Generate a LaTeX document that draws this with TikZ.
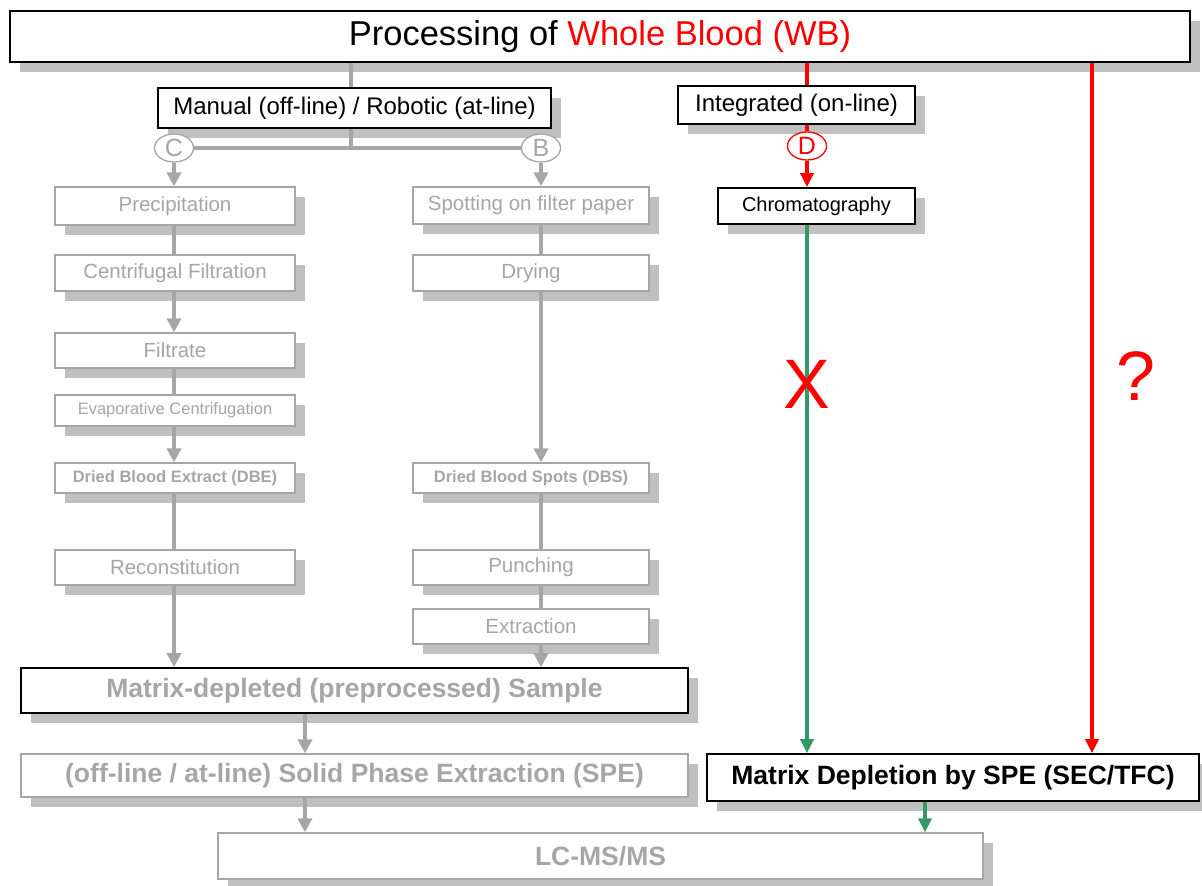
\documentclass[tikz,border=0pt]{standalone}
\usepackage{fontspec}
\setmainfont{Liberation Sans}
\usetikzlibrary{arrows.meta,shadows,shapes.geometric}
\definecolor{lgray}{HTML}{A6A6A6}
\definecolor{shgray}{HTML}{C0C0C0}
\definecolor{wbred}{HTML}{FF0000}
\definecolor{okgreen}{HTML}{339966}
\newcommand{\fsz}[1]{\fontsize{#1}{#1}\selectfont}

\begin{document}
\begin{tikzpicture}[x=1pt,y=-1pt,
  shadowed/.style={drop shadow={shadow xshift=10pt,shadow yshift=-10pt,fill=shgray,opacity=1}},
  blackbox/.style={draw=black,line width=1.6pt,fill=white,rectangle,inner sep=0pt,shadowed},
  graybox/.style={draw=lgray,line width=1.3pt,fill=white,rectangle,inner sep=0pt,text=lgray,shadowed},
  tag/.style={ellipse,draw=lgray,line width=1.3pt,fill=white,text=lgray,minimum width=39pt,minimum height=28pt,inner sep=0pt,font=\fsz{25}},
  gline/.style={draw=lgray,line width=4.5pt},
  garrow/.style={gline,-{Triangle[length=14pt,width=14pt]}},
  rline/.style={draw=wbred,line width=3.5pt},
  rarrow/.style={rline,-{Triangle[length=14pt,width=13pt]}},
  greenarrow/.style={draw=okgreen,line width=3.5pt,-{Triangle[length=14pt,width=13pt]}},
  big/.style={font=\fsz{26.5}\bfseries},
]
\useasboundingbox[fill=white] (0,0) rectangle (1202,886);

% column positions
\coordinate (jn) at (351,148);
\coordinate (colC) at (174,0);
\coordinate (colB) at (541,0);
\coordinate (colD) at (807,0);
\coordinate (colQ) at (1092,0);
\coordinate (colS) at (305,0);
\coordinate (colG) at (925,0);

% header
\node[blackbox,minimum width=1180pt,minimum height=51pt,font=\fsz{34.5}] (title) at (600,36.5)
  {Processing of \textcolor{wbred}{Whole Blood (WB)}};
\node[blackbox,minimum width=393pt,minimum height=40pt,font=\fsz{24}] (manual) at (354.5,108)
  {Manual (off-line) / Robotic (at-line)};
\node[blackbox,minimum width=237pt,minimum height=38pt,font=\fsz{24}] (integ) at (796.5,105)
  {Integrated (on-line)};
\node[blackbox,minimum width=197pt,minimum height=36pt,font=\fsz{20}] (chrom) at (816.5,206)
  {Chromatography};

% branch C
\node[graybox,minimum width=240pt,minimum height=38pt,font=\fsz{20.5}] (prec) at (175,206) {Precipitation};
\node[graybox,minimum width=240pt,minimum height=36pt,font=\fsz{20.5}] (cent) at (175,273) {Centrifugal Filtration};
\node[graybox,minimum width=240pt,minimum height=35pt,font=\fsz{20.5}] (filt) at (175,350.5) {Filtrate};
\node[graybox,minimum width=240pt,minimum height=31pt,font=\fsz{16.5}] (evap) at (175,410.5) {Evaporative Centrifugation};
\node[graybox,minimum width=240pt,minimum height=30pt,font=\fsz{16.5}\bfseries] (dbe) at (175,478) {Dried Blood Extract (DBE)};
\node[graybox,minimum width=240pt,minimum height=35pt,font=\fsz{20.5}] (recon) at (175,567.5) {Reconstitution};

% branch B
\node[graybox,minimum width=236pt,minimum height=37pt,font=\fsz{20.5}] (spot) at (531,205.5) {Spotting on filter paper};
\node[graybox,minimum width=236pt,minimum height=36pt,font=\fsz{20.5}] (dry) at (531,273) {Drying};
\node[graybox,minimum width=236pt,minimum height=30pt,font=\fsz{16.5}\bfseries] (dbs) at (531,478) {Dried Blood Spots (DBS)};
\node[graybox,minimum width=236pt,minimum height=35pt,font=\fsz{20.5}] (punch) at (531,567.5) {Punching};
\node[graybox,minimum width=236pt,minimum height=35pt,font=\fsz{20.5}] (extr) at (531,626.5) {Extraction};

% lower part
\node[blackbox,text=lgray,big,minimum width=667pt,minimum height=45pt] (mds) at (354.5,690.5)
  {Matrix-depleted (preprocessed) Sample};
\node[graybox,big,minimum width=667pt,minimum height=43pt] (spe) at (354.5,775.5)
  {(off-line / at-line) Solid Phase Extraction (SPE)};
\node[graybox,big,minimum width=765pt,minimum height=46pt] (lcms) at (600.5,856) {LC-MS/MS};
\node[blackbox,big,minimum width=492pt,minimum height=47pt] (mdspe) at (953,777.5)
  {Matrix Depletion by SPE (SEC/TFC)};

% manual / robotic connectors
\draw[gline] (title.south -| jn) -- (manual.north -| jn);
\draw[gline] (manual.south -| jn) -- (jn);
\node[tag] (tagC) at (174,148) {C};
\node[tag] (tagB) at (541,148) {B};
\draw[gline] (tagC.east) -- (tagB.west);
\draw[garrow] (tagC.south) -- (prec.north -| colC);
\draw[gline] (prec.south -| colC) -- (cent.north -| colC);
\draw[garrow] (cent.south -| colC) -- (filt.north -| colC);
\draw[gline] (filt.south -| colC) -- (evap.north -| colC);
\draw[garrow] (evap.south -| colC) -- (dbe.north -| colC);
\draw[gline] (dbe.south -| colC) -- (recon.north -| colC);
\draw[garrow] (recon.south -| colC) -- (mds.north -| colC);

\draw[garrow] (tagB.south) -- (spot.north -| colB);
\draw[gline] (spot.south -| colB) -- (dry.north -| colB);
\draw[garrow] (dry.south -| colB) -- (dbs.north -| colB);
\draw[gline] (dbs.south -| colB) -- (punch.north -| colB);
\draw[gline] (punch.south -| colB) -- (extr.north -| colB);
\draw[garrow] (extr.south -| colB) -- (mds.north -| colB);

\draw[garrow] (mds.south -| colS) -- (spe.north -| colS);
\draw[garrow] (spe.south -| colS) -- (lcms.north -| colS);

% integrated route
\draw[rline] (title.south -| colD) -- (integ.north -| colD);
\node[tag,draw=wbred,text=wbred] (tagD) at (807,146) {D};
\draw[rline] (integ.south -| colD) -- (tagD.north);
\draw[rarrow] (tagD.south) -- (chrom.north -| colD);
\draw[greenarrow] (chrom.south -| colD) -- (mdspe.north -| colD);
\draw[rarrow] (title.south -| colQ) -- (mdspe.north -| colQ);
\draw[greenarrow] (mdspe.south -| colG) -- (lcms.north -| colG);

\node[text=wbred,font=\fsz{70}] (cross) at (807,384) {X};
\node[text=wbred,font=\fsz{70}] (qmark) at (1136,376) {?};
\end{tikzpicture}
\end{document}
